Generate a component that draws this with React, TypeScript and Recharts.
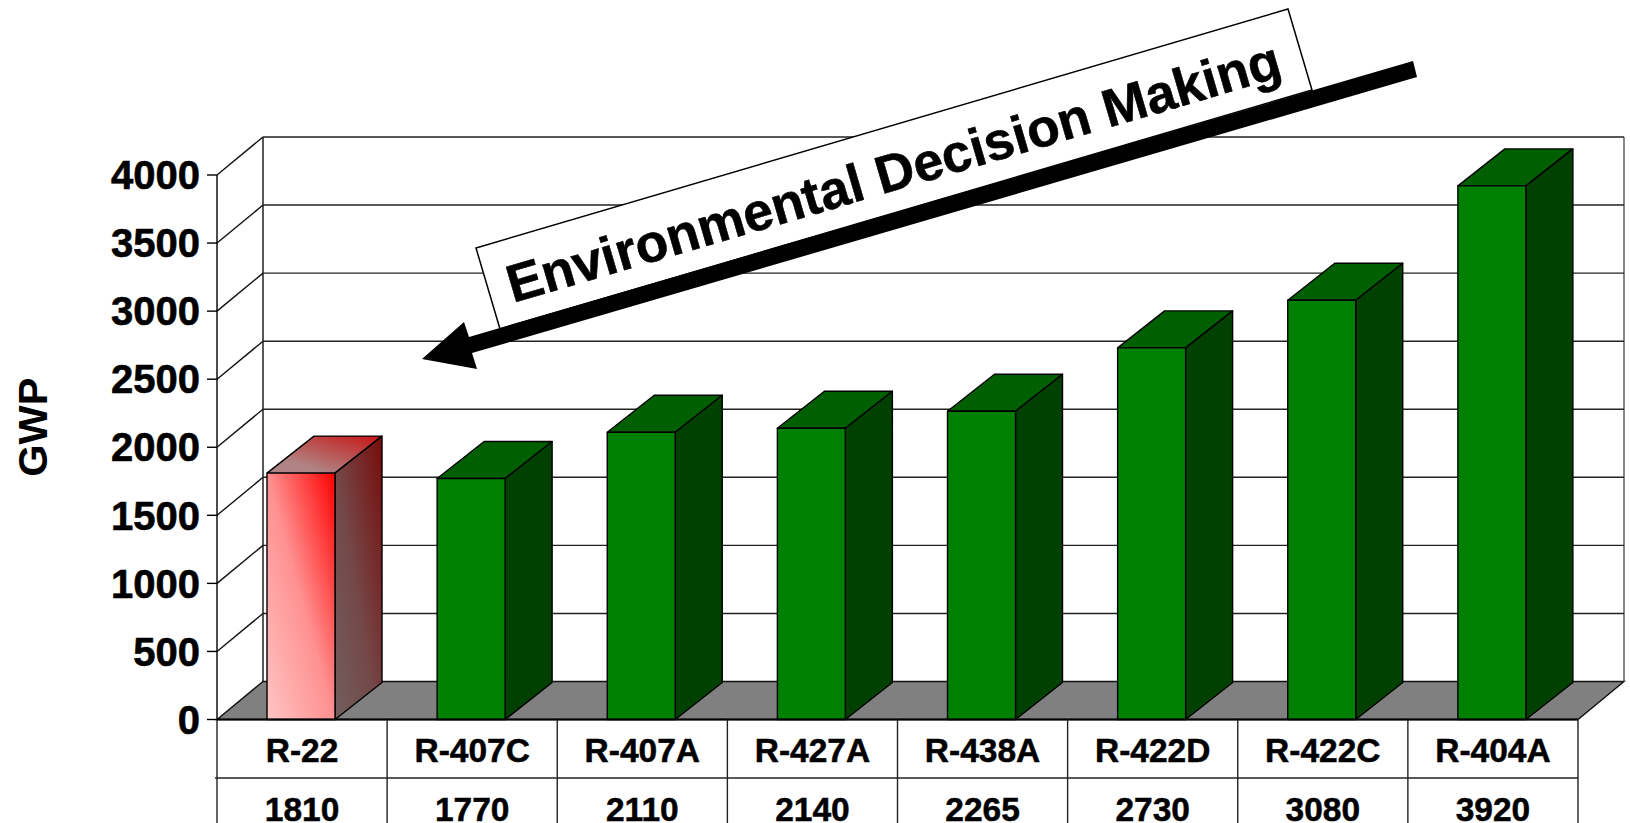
import { Bar, BarChart, CartesianGrid, XAxis, YAxis } from 'recharts'

const refrigerants = ['R-22', 'R-407C', 'R-407A', 'R-427A', 'R-438A', 'R-422D', 'R-422C', 'R-404A']
const gwpValues = [1810, 1770, 2110, 2140, 2265, 2730, 3080, 3920]
const yTicks = [0, 500, 1000, 1500, 2000, 2500, 3000, 3500, 4000]
const highlighted = 'R-22'

const data = refrigerants.map((name, i) => ({ name, gwp: gwpValues[i] }))

const FONT = '"Liberation Sans", Arial, sans-serif'
const W = 1630
const H = 823
const PLOT_LEFT = 217
const PLOT_RIGHT = 1578
const PLOT_TOP = 175
const PLOT_BOTTOM = 719.5
const ROW_LINE = 778
// depth of the fake 3d box
const DX = 46
const DY = -38

function GridLine(props: any) {
  const { x1, x2, y1 } = props
  const isFloor = y1 > PLOT_BOTTOM - 1
  const bx1 = x1 + DX
  const bx2 = x2 + DX
  const by = y1 + DY
  return (
    <g key={props.key ?? y1}>
      {isFloor && (
        <polygon points={`${x1},${y1} ${bx1},${by} ${bx2},${by} ${x2},${y1}`} fill="#808080" stroke="#111" strokeWidth={1.4} />
      )}
      {isFloor && <line x1={bx1} y1={by} x2={bx1} y2={PLOT_TOP + DY} stroke="#111" strokeWidth={1.4} />}
      {isFloor && <line x1={bx2} y1={by} x2={bx2} y2={PLOT_TOP + DY} stroke="#555" strokeWidth={1.4} />}
      {!isFloor && <line x1={x1} y1={y1} x2={bx1} y2={by} stroke="#111" strokeWidth={1.4} />}
      {!isFloor && <line x1={bx1} y1={by} x2={bx2} y2={by} stroke="#222" strokeWidth={1.4} />}
    </g>
  )
}

function Box3D(props: any) {
  const { y, width, height, name } = props
  const x = props.x - 1
  const hot = name === highlighted
  const dx = 47
  const dy = -37
  const r = x + width
  const b = y + height
  return (
    <g stroke="#000" strokeWidth={1.4} strokeLinejoin="round">
      <polygon points={`${x},${y} ${x + dx},${y + dy} ${r + dx},${y + dy} ${r},${y}`} fill={hot ? 'url(#hotTop)' : '#005f00'} />
      <polygon points={`${r},${y} ${r + dx},${y + dy} ${r + dx},${b + dy} ${r},${b}`} fill={hot ? 'url(#hotSide)' : '#004000'} />
      <rect x={x} y={y} width={width} height={height} fill={hot ? 'url(#hotFront)' : '#008000'} />
    </g>
  )
}

function TableTick(props: any) {
  const { x, payload, index } = props
  const half = (PLOT_RIGHT - PLOT_LEFT) / refrigerants.length / 2
  const textProps = {
    x,
    textAnchor: 'middle' as const,
    fontFamily: FONT,
    fontWeight: 700,
    fontSize: 33.5,
    fill: '#000',
    stroke: '#000',
    strokeWidth: 0.5,
  }
  return (
    <g>
      <line x1={x + half} y1={PLOT_BOTTOM} x2={x + half} y2={H} stroke="#222" strokeWidth={1.4} />
      {index === 0 && <line x1={x - half} y1={PLOT_BOTTOM} x2={x - half} y2={H} stroke="#222" strokeWidth={1.4} />}
      <line x1={x - half - (index === 0 ? 2 : 0)} y1={ROW_LINE} x2={x + half} y2={ROW_LINE} stroke="#222" strokeWidth={1.4} />
      <text {...textProps} y={762}>{payload.value}</text>
      <text {...textProps} y={821}>{gwpValues[index]}</text>
    </g>
  )
}

export default function App() {
  return (
    <div style={{ position: 'absolute', left: 0, top: 0, width: W, height: H, overflow: 'hidden', background: '#fff' }}>
      <BarChart
        width={W}
        height={H}
        data={data}
        margin={{ top: PLOT_TOP, right: W - PLOT_RIGHT, bottom: 0, left: 0 }}
      >
        <defs>
          <linearGradient id="hotFront" x1="0" y1="1" x2="1" y2="0">
            <stop offset="0%" stopColor="#ffc4c4" />
            <stop offset="50%" stopColor="#ff9090" />
            <stop offset="100%" stopColor="#ff0000" />
          </linearGradient>
          <linearGradient id="hotSide" x1="0" y1="1" x2="1" y2="0">
            <stop offset="0%" stopColor="#725f5f" />
            <stop offset="45%" stopColor="#744848" />
            <stop offset="100%" stopColor="#780c0c" />
          </linearGradient>
          <linearGradient id="hotTop" x1="0" y1="1" x2="1" y2="0">
            <stop offset="25%" stopColor="#b08484" />
            <stop offset="100%" stopColor="#c81414" />
          </linearGradient>
        </defs>
        <CartesianGrid vertical={false} horizontal={GridLine as any} />
        <XAxis
          dataKey="name"
          height={H - PLOT_BOTTOM}
          interval={0}
          tickLine={false}
          axisLine={{ stroke: '#000', strokeWidth: 2 }}
          tick={TableTick as any}
        />
        <YAxis
          domain={[0, 4000]}
          ticks={yTicks}
          interval={0}
          width={PLOT_LEFT}
          tickSize={10}
          tickMargin={7}
          axisLine={{ stroke: '#000', strokeWidth: 1.4 }}
          tickLine={{ stroke: '#000', strokeWidth: 1.4 }}
          tick={{ fontFamily: FONT, fontWeight: 700, fontSize: 40, fill: '#000', stroke: '#000', strokeWidth: 0.6 }}
          label={{
            value: 'GWP',
            angle: -90,
            position: 'insideLeft',
            offset: 32,
            dy: -20,
            style: { fontFamily: FONT, fontWeight: 700, fontSize: 41.5, fill: '#000', textAnchor: 'middle' },
          }}
        />
        <Bar dataKey="gwp" barSize={68} shape={Box3D} isAnimationActive={false} />
      </BarChart>
      {/* the banner and arrow sit over the chart, they are not data marks */}
      <svg width={W} height={H} style={{ position: 'absolute', left: 0, top: 0, pointerEvents: 'none' }}>
        <polygon points="476,248 1288,9 1312,90 500,329" fill="#fff" stroke="#000" strokeWidth={1.5} />
        <polygon points="1413,61 1417,77 472,353 477,369 422,359 464,322 469,337" fill="#000" />
        <text
          x={513}
          y={303}
          transform="rotate(-16.4 513 303)"
          fontFamily={FONT}
          fontWeight={700}
          fontSize={53.2}
          fill="#000"
          stroke="#000"
          strokeWidth={0.6}
        >
          Environmental Decision Making
        </text>
      </svg>
    </div>
  )
}
